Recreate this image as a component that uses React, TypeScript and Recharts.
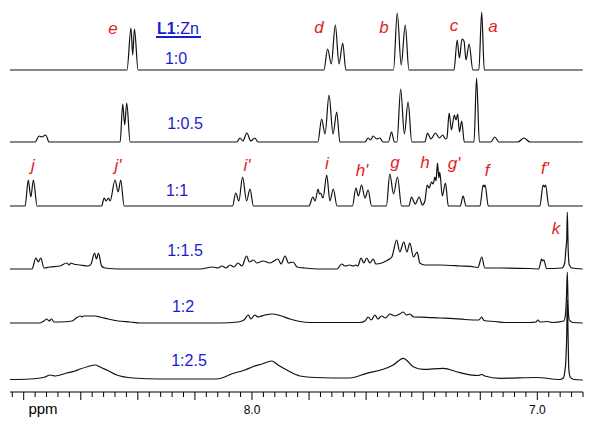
import React from "react";
import { LineChart, Line, XAxis, YAxis } from "recharts";

// ---------- data: [ppm, intensity] ----------
const spec_1_0: [number, number][] = [
  [8.848, 0], [8.438, 0], [8.424, 42], [8.418, 15], [8.412, 41], [8.399, 0],
  [7.748, 0], [7.735, 21], [7.722, 6], [7.708, 45], [7.695, 6], [7.682, 27], [7.671, 0],
  [7.504, 0], [7.491, 57], [7.477, 5], [7.463, 45], [7.45, 0],
  [7.292, 0], [7.281, 30], [7.273, 12], [7.264, 31], [7.257, 29], [7.25, 10], [7.239, 26], [7.226, 0],
  [7.205, 0], [7.195, 58], [7.186, 0],
  [6.841, 0],
];

const spec_1_05: [number, number][] = [
  [8.848, 0], [8.76, 0], [8.746, 6], [8.736, 5], [8.723, 7], [8.711, 0],
  [8.462, 0], [8.453, 38], [8.446, 17], [8.439, 39], [8.427, 0],
  [8.053, 0], [8.042, 4], [8.032, 1], [8.018, 9], [8.004, 1], [7.99, 4], [7.979, 0],
  [7.769, 0], [7.756, 23], [7.744, 8], [7.73, 47], [7.716, 8], [7.703, 30], [7.692, 0],
  [7.604, 0], [7.593, 4], [7.585, 2], [7.575, 6], [7.564, 3], [7.552, 4], [7.541, 0],
  [7.522, 0], [7.511, 10], [7.501, 0],
  [7.492, 0], [7.479, 53], [7.466, 8], [7.453, 40], [7.44, 0],
  [7.394, 0], [7.385, 9], [7.373, 3], [7.357, 9], [7.343, 4], [7.332, 7], [7.322, 3],
  [7.317, 4], [7.309, 29], [7.301, 12], [7.291, 27], [7.285, 22], [7.279, 28], [7.273, 10], [7.265, 21], [7.256, 0],
  [7.222, 0], [7.213, 64], [7.203, 0],
  [7.163, 0], [7.149, 5], [7.135, 0],
  [7.068, 0], [7.047, 4], [7.026, 0],
  [6.841, 0],
];

const spec_1_1: [number, number][] = [
  [8.848, 0], [8.795, 0], [8.784, 26], [8.775, 9], [8.766, 26], [8.753, 0],
  [8.527, 0], [8.518, 8], [8.511, 5], [8.503, 8], [8.497, 5], [8.48, 26], [8.469, 14], [8.46, 26], [8.448, 0],
  [8.068, 0], [8.057, 13], [8.046, 5], [8.033, 29], [8.019, 5], [8.007, 17], [7.995, 0],
  [7.8, 0], [7.787, 9], [7.779, 5], [7.768, 17], [7.764, 12], [7.76, 13], [7.751, 8], [7.738, 31], [7.727, 5], [7.715, 17], [7.702, 0],
  [7.648, 0], [7.636, 18], [7.627, 10], [7.616, 21], [7.604, 8], [7.593, 16], [7.581, 0],
  [7.529, 0], [7.517, 32], [7.504, 12], [7.49, 29], [7.476, 0],
  [7.45, 0], [7.441, 9], [7.428, 2], [7.414, 9], [7.403, 1],
  [7.394, 5], [7.386, 21], [7.379, 18], [7.371, 24], [7.365, 22], [7.359, 29], [7.355, 25], [7.35, 43], [7.345, 28], [7.342, 34], [7.333, 10], [7.322, 23], [7.312, 0],
  [7.27, 0], [7.26, 10], [7.25, 0],
  [7.201, 0], [7.19, 21], [7.186, 19], [7.183, 21], [7.172, 0],
  [6.991, 0], [6.98, 21], [6.975, 19], [6.971, 21], [6.96, 0],
  [6.841, 0],
];

const spec_1_15: [number, number][] = [
  [8.848, 0], [8.771, 0], [8.757, 11], [8.749, 7], [8.74, 11], [8.729, 1],
  [8.708, 2], [8.673, 3], [8.649, 6], [8.641, 4], [8.635, 6], [8.626, 5], [8.602, 4], [8.574, 3], [8.564, 5],
  [8.552, 16], [8.545, 10], [8.538, 16], [8.527, 3], [8.515, 1], [8.462, 0],
  [8.182, 0], [8.137, 2], [8.119, 1], [8.105, 3], [8.091, 1], [8.077, 4], [8.063, 2], [8.049, 6], [8.035, 3],
  [8.019, 13], [8.009, 7], [7.995, 9], [7.983, 6], [7.961, 8], [7.937, 6], [7.909, 10], [7.898, 5],
  [7.884, 13], [7.872, 6], [7.856, 7], [7.842, 2], [7.814, 1], [7.762, 0],
  [7.702, 0], [7.686, 5], [7.674, 3], [7.657, 4], [7.646, 3], [7.636, 4], [7.629, 3],
  [7.618, 11], [7.608, 6], [7.598, 11], [7.587, 6], [7.575, 10], [7.566, 5], [7.545, 6], [7.524, 9], [7.51, 12],
  [7.493, 29], [7.482, 17], [7.468, 27], [7.457, 17], [7.447, 26], [7.434, 12], [7.421, 17], [7.412, 6],
  [7.394, 4], [7.342, 4], [7.271, 3], [7.219, 2],
  [7.208, 1.5], [7.195, 12], [7.184, 1], [7.131, 1], [7.026, 0.5],
  [6.995, 0], [6.985, 10], [6.981, 8], [6.977, 9], [6.968, 0.5],
  [6.914, 1], [6.904, 6], [6.9, 20], [6.897, 30], [6.895, 57], [6.892, 20], [6.888, 4], [6.879, 1],
  [6.841, 0],
];

const spec_1_2: [number, number][] = [
  [8.848, 0], [8.743, 0], [8.729, 2], [8.719, 4], [8.711, 2], [8.702, 4], [8.694, 1], [8.673, 1],
  [8.63, 2], [8.616, 5], [8.602, 7], [8.595, 6], [8.591, 7], [8.567, 7], [8.55, 7], [8.532, 6], [8.504, 4], [8.469, 2], [8.427, 1], [8.392, 0],
  [8.112, 0], [8.049, 1], [8.028, 3], [8.013, 8], [8.004, 4], [7.99, 8], [7.979, 6], [7.954, 8], [7.93, 9], [7.902, 7.5],
  [7.867, 4], [7.832, 1.5], [7.797, 0.5], [7.622, 0.5],
  [7.604, 2], [7.593, 6], [7.582, 3], [7.569, 8], [7.559, 4], [7.546, 7], [7.532, 5], [7.517, 9], [7.499, 7], [7.482, 9],
  [7.47, 11], [7.459, 8], [7.447, 9], [7.433, 6], [7.388, 5.7], [7.342, 5], [7.306, 4.7], [7.254, 3.5],
  [7.205, 3], [7.195, 6], [7.187, 2.5], [7.149, 1.5], [7.114, 0.5], [7.026, 0.5],
  [7.005, 1], [6.998, 3], [6.991, 1], [6.963, 1.5], [6.949, 0.5],
  [6.907, 2], [6.901, 10], [6.898, 25], [6.895, 51], [6.892, 15], [6.888, 3], [6.876, 0.5],
  [6.841, 0],
];

const spec_1_25: [number, number][] = [
  [8.848, 0.5], [8.778, 1], [8.725, 3], [8.708, 5], [8.69, 4], [8.649, 7], [8.62, 9], [8.602, 11], [8.574, 13.5],
  [8.55, 15], [8.532, 13], [8.509, 10], [8.474, 5], [8.417, 2], [8.322, 1], [8.124, 1],
  [8.065, 6.7], [8.025, 10], [7.997, 13.3], [7.965, 16], [7.931, 19], [7.909, 15], [7.878, 10], [7.832, 4], [7.779, 2.5],
  [7.657, 2], [7.598, 6.7], [7.54, 10.7], [7.505, 15], [7.47, 21.7], [7.435, 13.3], [7.4, 10.7], [7.33, 11.7],
  [7.271, 7.3], [7.208, 4.5], [7.195, 5.5], [7.184, 4], [7.131, 1.7], [7.002, 2.5], [6.921, 0.5],
  [6.909, 2], [6.904, 8], [6.9, 20], [6.897, 45], [6.895, 80], [6.892, 40], [6.89, 12], [6.885, 3], [6.872, 0.5],
  [6.841, 0],
];

const ratioLabels = ["1:0", "1:0.5", "1:1", "1:1.5", "1:2", "1:2.5"];
const spectra = [spec_1_0, spec_1_05, spec_1_1, spec_1_15, spec_1_2, spec_1_25];

const majorTicks = [8.8, 8.6, 8.4, 8.2, 8.0, 7.8, 7.6, 7.4, 7.2, 7.0];
const labeledTicks = ["8.0", "7.0"];

const peakLabels = [
  { text: "e" }, { text: "d" }, { text: "b" }, { text: "c" }, { text: "a" },
  { text: "j" }, { text: "j'" }, { text: "i'" }, { text: "i" }, { text: "h'" },
  { text: "g" }, { text: "h" }, { text: "g'" }, { text: "f" }, { text: "f'" }, { text: "k" },
];

// ---------- layout / styles ----------
const W = 600;
const H = 427;
const AXIS_Y = 392;
const BASELINES = [70, 142, 206, 269, 323, 380]; // pixel rows of each trace's baseline
const RATIO_POS = [
  [176, 58], [185, 123], [177, 190], [185, 250], [183, 306], [189, 360],
];
const PEAK_POS = [
  [113, 28], [319, 27], [384, 27], [454, 25], [493, 26],
  [33, 165], [118, 165], [247, 165], [327, 163], [362, 170],
  [395, 162], [425, 162], [454, 163], [487, 170], [545, 168], [556, 228],
];
const RED = "#e3221c";
const BLUE = "#1a1ad2";
const FONT = "'Liberation Sans', Arial, Helvetica, sans-serif";

const ticks: number[] = [];
for (let i = 0; i <= 50; i++) {
  const v = Math.round((8.84 - i * 0.04) * 100) / 100;
  if (v >= 6.84) ticks.push(v);
}

const isMajor = (v: number) => majorTicks.some((m) => Math.abs(m - v) < 1e-6);

const Tick = (props: any) => {
  const { x, y, payload } = props;
  const v = payload.value as number;
  const major = isMajor(v);
  const lbl = labeledTicks.find((t) => Math.abs(parseFloat(t) - v) < 1e-6);
  return (
    <g>
      <line x1={x} x2={x} y1={y} y2={y + (major ? 8 : 5)} stroke="#000" strokeWidth={1} />
      {lbl && (
        <text x={x} y={y + 18} textAnchor="middle" dominantBaseline="central" fontSize={12} fontFamily={FONT} fill="#000">
          {lbl}
        </text>
      )}
    </g>
  );
};

export default function App() {
  const plotH = AXIS_Y;
  const series = spectra.map((s, i) =>
    s.map(([ppm, h]) => ({ ppm, y: h + (plotH - BASELINES[i]) }))
  );
  return (
    <div style={{ position: "absolute", left: 0, top: 0, width: W, height: H, background: "#fff" }}>
      <LineChart width={W} height={H} margin={{ top: 0, right: 17, bottom: 0, left: 10 }}>
        <XAxis
          type="number"
          dataKey="ppm"
          domain={[6.84, 8.848]}
          reversed
          allowDataOverflow
          ticks={ticks}
          interval={0}
          tick={<Tick />}
          tickLine={false}
          tickSize={0}
          tickMargin={0}
          height={35}
          axisLine={{ stroke: "#000", strokeWidth: 1 }}
        />
        <YAxis type="number" hide domain={[0, plotH]} allowDataOverflow />
        {series.map((d, i) => (
          <Line
            key={ratioLabels[i]}
            data={d}
            dataKey="y"
            type="monotone"
            stroke="#111"
            strokeWidth={1.2}
            dot={false}
            activeDot={false}
            isAnimationActive={false}
          />
        ))}
      </LineChart>
      <svg width={W} height={H} style={{ position: "absolute", left: 0, top: 0, pointerEvents: "none" }}>
        {peakLabels.map((p, i) => (
          <text
            key={p.text + i}
            x={PEAK_POS[i][0]}
            y={PEAK_POS[i][1]}
            textAnchor="middle"
            dominantBaseline="central"
            fontSize={17}
            fontStyle="italic"
            fontFamily={FONT}
            fill={RED}
          >
            {p.text}
          </text>
        ))}
        {ratioLabels.map((t, i) => (
          <text
            key={t}
            x={RATIO_POS[i][0]}
            y={RATIO_POS[i][1]}
            textAnchor="middle"
            dominantBaseline="central"
            fontSize={16}
            fontFamily={FONT}
            fill={BLUE}
          >
            {t}
          </text>
        ))}
        <text x={178} y={28} textAnchor="middle" dominantBaseline="central" fontSize={16} fontFamily={FONT} fill={BLUE}>
          <tspan fontWeight="bold">L1</tspan>
          <tspan>:Zn</tspan>
        </text>
        <line x1={156} x2={201} y1={37} y2={37} stroke={BLUE} strokeWidth={2} />
        <text x={43} y={408} textAnchor="middle" dominantBaseline="central" fontSize={15} fontFamily={FONT} fill="#000">
          ppm
        </text>
      </svg>
    </div>
  );
}
